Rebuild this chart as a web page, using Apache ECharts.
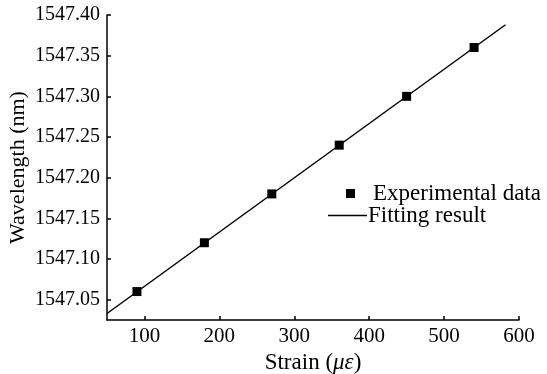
<!DOCTYPE html>
<html>
<head>
<meta charset="utf-8">
<script src="https://cdn.jsdelivr.net/npm/echarts@6/dist/echarts.min.js"></script>
<style>
  html, body { margin: 0; padding: 0; background: #fff; }
  #chart { width: 547px; height: 374px; }
</style>
</head>
<body>
<div id="chart"></div>
<script>
// measured strain points
const strain = [90, 180, 270, 360, 450, 540];
const wavelength = [1547.06, 1547.12, 1547.18, 1547.24, 1547.30, 1547.36];
// fitted line ends
const fitStrain = [50, 582];
const fitWavelength = [1547.033, 1547.388];
// tick labels
const xTicks = [100, 200, 300, 400, 500, 600];
const yTicks = [1547.05, 1547.10, 1547.15, 1547.20, 1547.25, 1547.30, 1547.35, 1547.40];

const font = "'Liberation Serif', 'Times New Roman', serif";

let myChart = echarts.init(document.getElementById("chart"));
let option = {
  animation: false,
  textStyle: { fontFamily: font, color: "#000" },
  grid: { left: 107, right: 28, top: 15, bottom: 54, outerBoundsMode: "none", containLabel: false },
  legend: [
    {
      left: 346,
      top: 182,
      padding: 0,
      itemWidth: 9,
      itemHeight: 9,
      textStyle: { fontFamily: font, fontSize: 23, color: "#000", padding: [0, 0, 0, 13] },
      data: [{ name: "Experimental data", icon: "rect" }]
    },
    {
      left: 328,
      top: 204,
      padding: 0,
      itemWidth: 39,
      itemHeight: 1.5,
      textStyle: { fontFamily: font, fontSize: 23, color: "#000", padding: [0, 0, 0, -4] },
      data: [{ name: "Fitting result", icon: "rect" }]
    }
  ],
  xAxis: {
    type: "value",
    min: 50,
    max: 600,
    name: "Strain ({i|με})",
    nameLocation: "middle",
    nameGap: 31,
    nameMoveOverlap: false,
    nameTextStyle: {
      fontFamily: font,
      fontSize: 23,
      color: "#000",
      rich: { i: { fontFamily: font, fontSize: 23, fontStyle: "italic", color: "#000" } }
    },
    axisLine: { lineStyle: { color: "#000", width: 1.5 } },
    axisTick: { inside: true, length: 4, customValues: xTicks, lineStyle: { color: "#000", width: 1.5 } },
    axisLabel: { customValues: xTicks, fontFamily: font, fontSize: 21, color: "#000", margin: 6 },
    splitLine: { show: false }
  },
  yAxis: {
    type: "value",
    min: 1547.025,
    max: 1547.40,
    name: "Wavelength (nm)",
    nameLocation: "middle",
    nameGap: 78,
    nameMoveOverlap: false,
    nameTextStyle: { fontFamily: font, fontSize: 22, color: "#000" },
    axisLine: { show: true, lineStyle: { color: "#000", width: 1.5 } },
    axisTick: { show: true, inside: true, length: 4, customValues: yTicks, lineStyle: { color: "#000", width: 1.5 } },
    axisLabel: {
      customValues: yTicks,
      fontFamily: font,
      fontSize: 20,
      color: "#000",
      margin: 7,
      formatter: function(v) { return v.toFixed(2); }
    },
    splitLine: { show: false }
  },
  series: [
    {
      name: "Fitting result",
      type: "line",
      symbol: "none",
      lineStyle: { color: "#000", width: 1.5 },
      itemStyle: { color: "#000" },
      data: fitStrain.map((x, i) => [x, fitWavelength[i]]),
      z: 2
    },
    {
      name: "Experimental data",
      type: "scatter",
      symbol: "rect",
      symbolSize: 9,
      itemStyle: { color: "#000", opacity: 1 },
      data: strain.map((x, i) => [x, wavelength[i]]),
      z: 3
    }
  ]
};
myChart.setOption(option);
</script>
</body>
</html>
